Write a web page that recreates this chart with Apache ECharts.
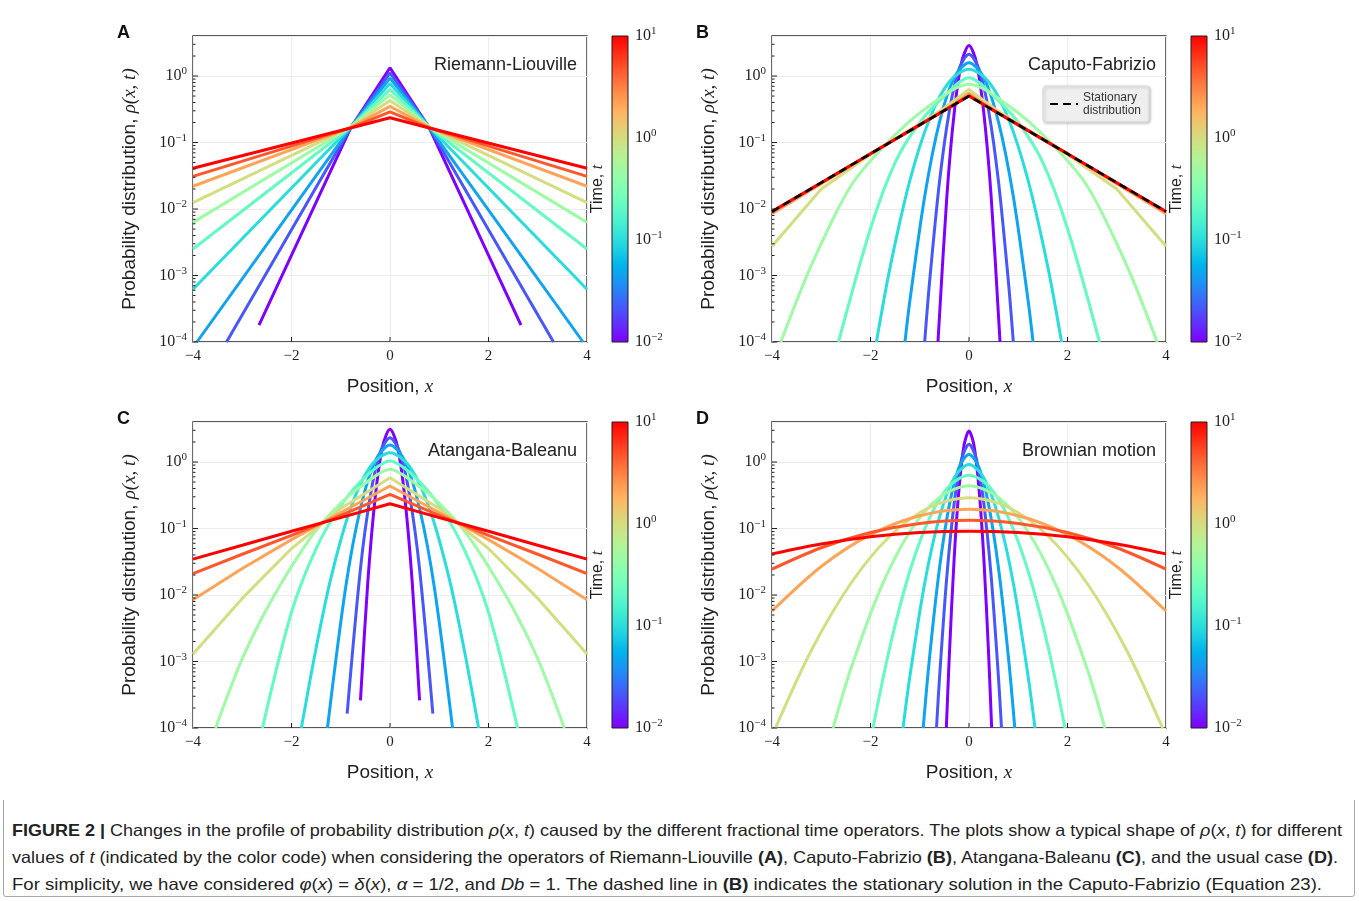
<!DOCTYPE html>
<html>
<head>
<meta charset="utf-8">
<title>Figure 2</title>
<script src="https://cdn.jsdelivr.net/npm/echarts@6.0.0/dist/echarts.min.js"></script>
<style>
  html, body { margin: 0; padding: 0; background: #fff; }
  #frame { position: absolute; left: 3px; top: 3px; width: 1352px; height: 894px; border: 1px solid #a8a8a8; border-radius: 3px; box-sizing: border-box; }
  #chart { position: absolute; left: 0; top: 0; width: 1359px; height: 800px; }
  .cap { position: absolute; left: 12px; white-space: nowrap; font-family: "Liberation Sans Narrow", "Liberation Sans", sans-serif; font-size: 16.5px; color: #222; transform-origin: 0 0; }
  .cap i { font-style: italic; }
</style>
</head>
<body>
<div id="frame"></div>
<div id="chart"></div>
<div class="cap" id="cap1" style="top:821px"><b>FIGURE 2 |</b> Changes in the profile of probability distribution <i>ρ</i>(<i>x</i>, <i>t</i>) caused by the different fractional time operators. The plots show a typical shape of <i>ρ</i>(<i>x</i>, <i>t</i>) for different</div>
<div class="cap" id="cap2" style="top:848px">values of <i>t</i> (indicated by the color code) when considering the operators of Riemann-Liouville <b>(A)</b>, Caputo-Fabrizio <b>(B)</b>, Atangana-Baleanu <b>(C)</b>, and the usual case <b>(D)</b>.</div>
<div class="cap" id="cap3" style="top:875px">For simplicity, we have considered <i>φ</i>(<i>x</i>) = <i>δ</i>(<i>x</i>), <i>α</i> = 1/2, and <i>Db</i> = 1. The dashed line in <b>(B)</b> indicates the stationary solution in the Caputo-Fabrizio (Equation 23).</div>
<script>
// time values shown by the colour code (one curve per value)
const times = [0.01, 0.0215, 0.0464, 0.1, 0.215, 0.464, 1, 2.15, 4.64, 10];

// right half (x >= 0) of each curve; curves are symmetric in x
const rlCurves = [
  [[0, 1.33], [0.8, 0.165], [2.66, 1.8e-4]],
  [[0, 1.12], [0.8, 0.167], [3.32, 1e-4]],
  [[0, 0.93], [0.8, 0.168], [3.92, 1e-4]],
  [[0, 0.77], [0.8, 0.17], [4, 6.2e-4]],
  [[0, 0.63], [0.8, 0.17], [4, 2.5e-3]],
  [[0, 0.52], [0.8, 0.17], [4, 6.3e-3]],
  [[0, 0.43], [0.8, 0.17], [4, 0.0125]],
  [[0, 0.35], [0.8, 0.168], [4, 0.022]],
  [[0, 0.29], [0.8, 0.166], [4, 0.031]],
  [[0, 0.236], [0.8, 0.165], [4, 0.041]]
];
const cfCurves = [
  [[0, 2.89], [0.15, 1.61], [0.3, 0.281], [0.45, 0.0153], [0.63, 1e-4]],
  [[0, 2.12], [0.2, 1.29], [0.4, 0.296], [0.6, 0.0254], [0.8, 8.1e-4], [0.9, 1e-4]],
  [[0, 1.59], [0.3, 0.946], [0.6, 0.202], [0.9, 0.0154], [1.2, 4.2e-4], [1.3, 1e-4]],
  [[0, 1.26], [0.4, 0.82], [0.8, 0.228], [1.2, 0.0269], [1.6, 1.35e-3], [1.88, 1e-4]],
  [[0, 0.944], [0.5, 0.5], [1, 0.2], [1.5, 0.05], [2, 5.1e-3], [2.65, 1e-4]],
  [[0, 0.75], [0.8, 0.36], [1.6, 0.11], [2.4, 0.0222], [3.2, 1.43e-3], [3.82, 1e-4]],
  [[0, 0.63], [0.5, 0.33], [1, 0.19], [2, 0.066], [3, 0.02], [4, 2.75e-3]],
  [[0, 0.55], [0.5, 0.3], [1, 0.185], [2, 0.068], [3, 0.024], [4, 0.0085]],
  [[0, 0.51], [0.5, 0.305], [1, 0.184], [2, 0.0677], [3, 0.0249], [4, 0.0092]],
  [[0, 0.5], [0.5, 0.303], [1, 0.184], [2, 0.0677], [3, 0.0249], [4, 0.0092]]
];
const cfStationary = [[0, 0.5], [4, 0.00916]];
const abCurves = [
  [[0, 3.1], [0.15, 1.73], [0.3, 0.295], [0.45, 0.0159], [0.6, 2.6e-4]],
  [[0, 2.32], [0.2, 1.4], [0.4, 0.308], [0.6, 0.0247], [0.87, 1.65e-4]],
  [[0, 1.8], [0.3, 1.04], [0.6, 0.202], [0.9, 0.0131], [1.27, 1e-4]],
  [[0, 1.38], [0.4, 0.853], [0.8, 0.201], [1.2, 0.018], [1.5, 1.6e-3], [1.8, 1e-4]],
  [[0, 1.035], [0.5, 0.6], [1, 0.22], [1.5, 0.05], [2, 5.5e-3], [2.59, 1e-4]],
  [[0, 0.776], [0.5, 0.48], [1, 0.24], [1.6, 0.075], [2.4, 0.0085], [3, 1.1e-3], [3.54, 1e-4]],
  [[0, 0.581], [1, 0.2], [2, 0.05], [3, 0.0089], [4, 1.3e-3]],
  [[0, 0.436], [1, 0.174], [2, 0.068], [3, 0.025], [4, 0.0085]],
  [[0, 0.327], [1, 0.158], [2, 0.079], [3, 0.041], [4, 0.021]],
  [[0, 0.236], [1, 0.146], [2, 0.091], [3, 0.056], [4, 0.0347]]
];
const bmCurves = [
  [[0, 2.92], [0.1, 1.8], [0.2, 0.42], [0.3, 0.037], [0.4, 0.0012], [0.46, 1e-4]],
  [[0, 1.85], [0.15, 1.11], [0.3, 0.242], [0.45, 0.019], [0.6, 5.5e-4], [0.66, 1e-4]],
  [[0, 1.3], [0.2, 0.84], [0.4, 0.225], [0.6, 0.025], [0.8, 1.17e-3], [0.93, 1e-4]],
  [[0, 0.92], [0.3, 0.583], [0.6, 0.148], [0.9, 0.015], [1.2, 6e-4], [1.34, 1e-4]],
  [[0, 0.63], [0.4, 0.437], [0.8, 0.145], [1.2, 0.023], [1.6, 1.74e-3], [1.95, 1e-4]],
  [[0, 0.44], [0.6, 0.294], [1.2, 0.0895], [1.8, 0.0123], [2.4, 7.7e-4], [2.76, 1e-4]],
  [[0, 0.29], [0.8, 0.209], [1.6, 0.0778], [2.4, 0.0149], [3.2, 1.48e-3], [3.93, 1e-4]],
  [[0, 0.195], [1, 0.156], [2, 0.081], [3, 0.0269], [4, 5.75e-3]],
  [[0, 0.133], [1, 0.119], [2, 0.087], [3, 0.0514], [4, 0.0245]],
  [[0, 0.091], [1, 0.0869], [2, 0.075], [3, 0.0586], [4, 0.0416]]
];

// axis ticks
const xTicks = [-4, -2, 0, 2, 4];
const yDecades = [1e-4, 1e-3, 1e-2, 1e-1, 1];
const barDecades = [0.01, 0.1, 1, 10];
const yMin = 1e-4, yMax = 4;
const xMin = -4, xMax = 4;
const tMin = 0.01, tMax = 10;

const panelLetters = ['A', 'B', 'C', 'D'];
const panelNames = ['Riemann-Liouville', 'Caputo-Fabrizio', 'Atangana-Baleanu', 'Brownian motion'];
const panelCurves = [rlCurves, cfCurves, abCurves, bmCurves];
// curves from this index on have a sharp peak at x = 0 and are drawn without smoothing
const sharpFrom = [0, 6, 6, 10];

const sans = '"Liberation Sans", Arial, sans-serif';
const serif = '"Liberation Serif", "Times New Roman", serif';
const ink = '#1f1f1f';

// matplotlib "rainbow" colormap
function rainbow(f) {
  const r = Math.abs(2 * f - 0.5);
  const g = Math.sin(Math.PI * f);
  const b = Math.cos(Math.PI * f / 2);
  const h = (v) => Math.round(Math.max(0, Math.min(1, v)) * 255);
  return 'rgb(' + h(r) + ',' + h(g) + ',' + h(b) + ')';
}
function timeColor(t) {
  return rainbow((Math.log10(t) - Math.log10(tMin)) / (Math.log10(tMax) - Math.log10(tMin)));
}
function mirror(half) {
  const left = half.filter((p) => p[0] > 0).map((p) => [-p[0], p[1]]).reverse();
  return left.concat(half);
}
function powLabel(v) {
  const e = Math.round(Math.log10(v));
  return '{b|10}{s|' + (e < 0 ? '\u2212' + (-e) : e) + '}';
}
const powRich = {
  b: { fontFamily: serif, fontSize: 16, color: ink },
  s: { fontFamily: serif, fontSize: 11, color: ink, padding: [0, 0, 9, 0] }
};
const nameRich = {
  a: { fontFamily: sans, fontSize: 19, color: ink },
  m: { fontFamily: serif, fontSize: 19, fontStyle: 'italic', color: ink }
};

const minorValues = [];
for (let e = -4; e <= 0; e++) {
  for (let m = 2; m <= 9; m++) {
    const v = m * Math.pow(10, e);
    if (v < yMax) minorValues.push(v);
  }
}
// tick marks: [x, y, kind]  kind 0 = major y, 1 = minor y, 2 = x
const tickData = []
  .concat(yDecades.map((v) => [xMin, v, 0]))
  .concat(minorValues.map((v) => [xMin, v, 1]))
  .concat(xTicks.slice(1, -1).map((v) => [v, yMin, 2]));

function renderTick(params, api) {
  const p = api.coord([api.value(0), api.value(1)]);
  const kind = api.value(2);
  const shape = kind === 2
    ? { x1: p[0], y1: p[1], x2: p[0], y2: p[1] - 5 }
    : { x1: p[0], y1: p[1], x2: p[0] + (kind === 0 ? 5 : 2.5), y2: p[1] };
  return { type: 'line', shape: shape, style: { stroke: ink, lineWidth: 1 } };
}

const gradStops = [];
for (let k = 0; k <= 20; k++) gradStops.push({ offset: k / 20, color: rainbow(1 - k / 20) });

const plotPos = [[193, 36], [772, 36], [193, 422], [772, 422]];
const plotW = 394, plotH = 306;

const option = {
  animation: false,
  backgroundColor: '#fff',
  title: [],
  grid: [],
  xAxis: [],
  yAxis: [],
  series: [],
  legend: {
    data: ['Stationary distribution'],
    left: 1043, top: 86,
    itemWidth: 28, itemHeight: 10,
    padding: [5, 8, 5, 6],
    backgroundColor: '#efefef',
    borderColor: '#dddddd', borderWidth: 1, borderRadius: 3,
    shadowBlur: 3, shadowColor: 'rgba(0,0,0,0.25)', shadowOffsetX: 1, shadowOffsetY: 1,
    itemStyle: { opacity: 0 },
    formatter: () => 'Stationary\ndistribution',
    textStyle: { fontFamily: sans, fontSize: 12, lineHeight: 13, color: '#333', align: 'center' }
  }
};

panelCurves.forEach((curves, i) => {
  const [px, py] = plotPos[i];
  const g = option.grid.length;
  const xi = option.xAxis.length;
  const yi = option.yAxis.length;

  option.title.push({
    text: panelLetters[i], left: px - 76, top: py - 12, padding: 0,
    textStyle: { fontFamily: sans, fontWeight: 'bold', fontSize: 18, color: '#111' }
  });
  option.title.push({
    text: panelNames[i], right: 1359 - (px + plotW - 10), top: py + 20, padding: 0,
    textStyle: { fontFamily: sans, fontWeight: 'normal', fontSize: 18, color: '#222' }
  });

  option.grid.push({ left: px, top: py, width: plotW, height: plotH, show: true, borderColor: ink, borderWidth: 1.3, backgroundColor: 'transparent' });
  option.grid.push({ left: px + 419, top: py, width: 16, height: plotH, show: true, borderColor: ink, borderWidth: 1, backgroundColor: 'transparent', z: 5 });

  option.xAxis.push({
    gridIndex: g, type: 'value', min: xMin, max: xMax, interval: 2,
    axisLine: { show: false, onZero: false },
    axisTick: { show: false },
    axisLabel: { customValues: xTicks, formatter: (v) => (v < 0 ? '\u2212' + (-v) : String(v)), fontFamily: serif, fontSize: 15, color: ink, margin: 7 },
    splitLine: { show: true, lineStyle: { color: '#ededed', width: 1 } },
    name: '{a|Position, }{m|x}', nameLocation: 'middle', nameGap: 35,
    nameTextStyle: { rich: nameRich }
  });
  option.xAxis.push({ gridIndex: g + 1, type: 'value', min: 0, max: 1, show: false });

  option.yAxis.push({
    gridIndex: g, type: 'log', logBase: 10, min: yMin, max: yMax, position: 'left',
    axisLine: { show: false, onZero: false },
    axisTick: { show: false },
    axisLabel: { customValues: yDecades, formatter: powLabel, rich: powRich, margin: 6 },
    splitLine: { show: true, lineStyle: { color: '#ededed', width: 1 } },
    name: '{a|Probability distribution, }{m|ρ(x, t)}', nameLocation: 'middle', nameGap: 54,
    nameTextStyle: { rich: nameRich }
  });
  option.yAxis.push({
    gridIndex: g + 1, type: 'log', logBase: 10, min: tMin, max: tMax, position: 'right',
    axisLine: { show: false, onZero: false }, axisTick: { show: false }, splitLine: { show: false },
    axisLabel: { customValues: barDecades, formatter: powLabel, rich: powRich, margin: 7 }
  });
  option.yAxis.push({
    gridIndex: g + 1, type: 'value', min: 0, max: 1, position: 'left',
    axisLine: { show: false, onZero: false }, axisTick: { show: false }, axisLabel: { show: false }, splitLine: { show: false },
    name: '{a|Time, }{m|t}', nameLocation: 'middle', nameGap: 6,
    nameTextStyle: { rich: { a: { fontFamily: sans, fontSize: 16, color: ink }, m: { fontFamily: serif, fontSize: 16, fontStyle: 'italic', color: ink } } }
  });

  curves.forEach((c, j) => {
    option.series.push({
      type: 'line', xAxisIndex: xi, yAxisIndex: yi, data: mirror(c),
      symbol: 'none', smooth: j < sharpFrom[i] ? 0.3 : false,
      lineStyle: { width: 3, color: timeColor(times[j]) }, silent: true
    });
  });

  if (i === 1) {
    option.series.push({
      name: 'Stationary distribution', type: 'line', xAxisIndex: xi, yAxisIndex: yi, data: mirror(cfStationary),
      symbol: 'none', itemStyle: { color: '#000' },
      lineStyle: { width: 2.5, color: '#000', type: [8, 5] }, z: 4, silent: true
    });
  }

  option.series.push({
    type: 'custom', xAxisIndex: xi, yAxisIndex: yi, data: tickData,
    renderItem: renderTick, clip: false, silent: true, z: 6
  });

  option.series.push({
    type: 'line', xAxisIndex: xi + 1, yAxisIndex: yi + 1, data: [[0, tMax], [1, tMax]],
    symbol: 'none', lineStyle: { width: 0 }, silent: true,
    areaStyle: { origin: 'start', opacity: 1, color: new echarts.graphic.LinearGradient(0, 0, 0, 1, gradStops) }
  });
});

const chart = echarts.init(document.getElementById('chart'));
chart.setOption(option);

// fit the caption lines to the widths they take in the figure
[['cap1', 1330], ['cap2', 1326], ['cap3', 1310]].forEach(([id, w]) => {
  const el = document.getElementById(id);
  el.style.transform = 'scaleX(' + (w / el.getBoundingClientRect().width) + ')';
});
</script>
</body>
</html>
